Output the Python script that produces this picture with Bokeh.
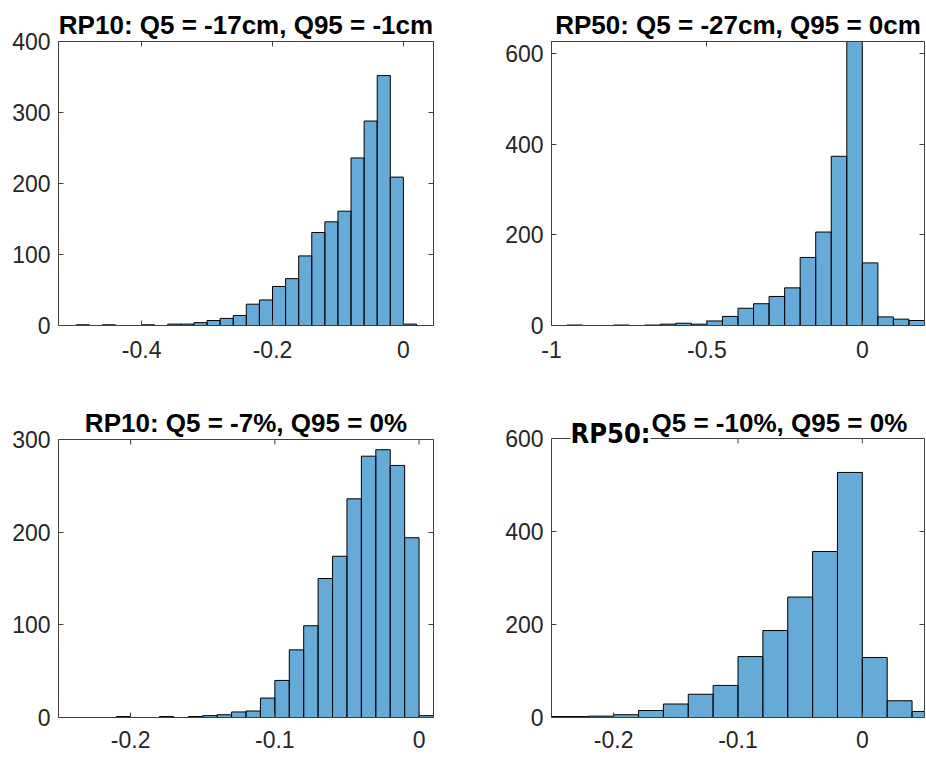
import glob
from bokeh.plotting import figure
from bokeh.models import (Range1d, FixedTicker, LinearAxis, CustomJSTickFormatter,
                          CustomLabelingPolicy, Label, Span, ColumnDataSource)
from bokeh.layouts import column, row
from bokeh.embed import file_html
from bokeh.resources import INLINE

# ---------------- data ----------------
# RP10, absolute change (m): bins of 0.02 starting at -0.50
rp10_abs_start = -0.50
rp10_abs_width = 0.02
rp10_abs_counts = [1, 0, 1, 0, 0, 1, 0, 2, 2, 4, 7, 10, 14, 30, 36, 55, 66, 98,
                   131, 146, 161, 236, 288, 352, 209, 2]

# RP50, absolute change (m): bins of 0.05 starting at -1.00
rp50_abs_start = -1.00
rp50_abs_width = 0.05
rp50_abs_counts = [0, 1, 0, 0, 1, 0, 1, 3, 5, 3, 10, 20, 38, 48, 64, 83, 150,
                   206, 373, 626, 138, 19, 14, 11]

# RP10, relative change: bins of 0.01 starting at -0.25
rp10_rel_start = -0.25
rp10_rel_width = 0.01
rp10_rel_counts = [0, 0, 0, 0, 1, 0, 0, 1, 0, 1, 2, 3, 6, 7, 21, 40, 73, 99,
                   150, 174, 236, 282, 289, 272, 194, 2]

# RP50, relative change: bins of 0.02 starting at -0.26
rp50_rel_start = -0.26
rp50_rel_width = 0.02
rp50_rel_counts = [2, 2, 3, 6, 15, 29, 50, 69, 131, 187, 259, 357, 527, 129, 36, 13]

titles = ["RP10: Q5 = -17cm, Q95 = -1cm",
          "RP50: Q5 = -27cm, Q95 = 0cm",
          "RP10: Q5 = -7%, Q95 = 0%",
          "Q5 = -10%, Q95 = 0%"]
title_prefix_rp50 = "RP50:"

x_ticks = [[-0.4, -0.2, 0], [-1, -0.5, 0], [-0.2, -0.1, 0], [-0.2, -0.1, 0]]
y_ticks = [[0, 100, 200, 300, 400], [0, 200, 400, 600], [0, 100, 200, 300], [0, 200, 400, 600]]
x_limits = [(-0.527, 0.046), (-1.0, 0.2), (-0.25, 0.01), (-0.25, 0.05)]
y_limits = [(0, 400), (0, 626), (0, 300), (0, 600)]

# ---------------- styling ----------------
FONT = "Liberation Sans"


def font_files(pattern):
    out = []
    for root in ("/usr/share/fonts", "/usr/local/share/fonts"):
        out += glob.glob(f"{root}/**/{pattern}", recursive=True)
    return out


if font_files("LiberationSansNarrow-Bold*"):
    NARROW, NARROW_PX = "Liberation Sans Narrow", 35
elif font_files("NotoSans-CondensedBold*"):
    NARROW, NARROW_PX = "Noto Sans Condensed", 34
else:
    NARROW, NARROW_PX = "DejaVu Sans Condensed", 27

BAR_FILL = "#0072BD"
AXIS_COLOR = "#404040"
TEXT_COLOR = "#262626"
TICK_SIZE = "23px"
TITLE_PX = 26
TICK_LEN = 5

fmt = CustomJSTickFormatter(code="return String(Math.round(tick*1000)/1000);")
no_labels = CustomLabelingPolicy(code="return new Set();")


def style_axis(ax, labeled, standoff):
    ax.axis_line_color = AXIS_COLOR
    ax.major_tick_line_color = AXIS_COLOR
    ax.major_tick_in = TICK_LEN
    ax.major_tick_out = 0
    ax.minor_tick_line_color = None
    ax.major_label_text_font = FONT
    ax.major_label_text_color = TEXT_COLOR
    if labeled:
        ax.major_label_text_font_size = TICK_SIZE
        ax.major_label_standoff = standoff
    else:
        ax.major_label_text_font_size = "0px"
        ax.major_label_policy = no_labels
        ax.major_label_standoff = 0


def make_panel(idx, start, width, counts, fig_w, fig_h, mb_left, mb_right, mb_top, mb_bottom,
               x_standoff, box_gap=None):
    """box_gap: if given, the frame reaches box_gap px above the box top, so that the
    title can be drawn inside the frame (and overlap the box, as in the reference)."""
    y0, y1 = y_limits[idx]
    fh = fig_h - mb_top - mb_bottom
    y_end = y1 if box_gap is None else y1 * fh / (fh - box_gap)
    extra = dict(title=None) if box_gap is not None else {}
    p = figure(width=fig_w, height=fig_h, output_backend="svg", toolbar_location=None,
               x_range=Range1d(*x_limits[idx]), y_range=Range1d(y0, y_end),
               min_border_left=mb_left, min_border_right=mb_right,
               min_border_top=mb_top, min_border_bottom=mb_bottom,
               x_axis_location=None, y_axis_location=None, **extra)
    p.outline_line_color = None
    p.grid.grid_line_color = None
    p.background_fill_color = "white"
    p.border_fill_color = "white"

    lefts = [start + i * width for i in range(len(counts))]
    rights = [l + width for l in lefts]
    src = ColumnDataSource(dict(left=lefts, right=rights, top=counts, bottom=[0] * len(counts)))
    p.quad(left="left", right="right", top="top", bottom="bottom", source=src,
           fill_color=BAR_FILL, fill_alpha=0.6, line_color="black", line_width=1)

    bx = LinearAxis(ticker=FixedTicker(ticks=x_ticks[idx]), formatter=fmt)
    style_axis(bx, True, x_standoff)
    p.add_layout(bx, "below")
    ly = LinearAxis(ticker=FixedTicker(ticks=y_ticks[idx]), formatter=fmt)
    style_axis(ly, True, 8)
    p.add_layout(ly, "left")
    ry = LinearAxis(ticker=FixedTicker(ticks=y_ticks[idx]), formatter=fmt)
    style_axis(ry, False, 0)
    p.add_layout(ry, "right")
    if box_gap is not None:
        ly.bounds = (y0, y1)
        ry.bounds = (y0, y1)
        p.add_layout(Span(location=y1, dimension="width", line_color=AXIS_COLOR, line_width=1))
        tick_units = TICK_LEN * (y_end - y0) / fh
        n = len(x_ticks[idx])
        p.segment(x0=x_ticks[idx], x1=x_ticks[idx], y0=[y1] * n, y1=[y1 - tick_units] * n,
                  line_color=AXIS_COLOR, line_width=1)
    else:
        tx = LinearAxis(ticker=FixedTicker(ticks=x_ticks[idx]), formatter=fmt)
        style_axis(tx, False, 0)
        p.add_layout(tx, "above")
        p.title.text = titles[idx]
        p.title.text_font = FONT
        p.title.text_font_style = "bold"
        p.title.text_font_size = f"{TITLE_PX}px"
        p.title.text_color = "black"
        p.title.align = "center"
        p.title.standoff = 4
    return p, fh


# geometry: left column 470 wide, right column 455 wide; rows 380 + 377 high
TOP_H, BOT_H = 380, 377
p1, _ = make_panel(0, rp10_abs_start, rp10_abs_width, rp10_abs_counts, 470, TOP_H, 58, 37, 41, 55, 15)
p2, _ = make_panel(1, rp50_abs_start, rp50_abs_width, rp50_abs_counts, 455, TOP_H, 81, 1, 41, 55, 15)
p3, fh3 = make_panel(2, rp10_rel_start, rp10_rel_width, rp10_rel_counts, 470, BOT_H, 58, 37,
                     20, 40, 13, box_gap=39)
p4, fh4 = make_panel(3, rp50_rel_start, rp50_rel_width, rp50_rel_counts, 455, BOT_H, 81, 1,
                     20, 40, 13, box_gap=38)

p3.add_layout(Label(x=(470 - 58 - 37) / 2, y=fh3 - 7.5, x_units="screen", y_units="screen",
                    text=titles[2], text_font=FONT, text_font_style="bold",
                    text_font_size=f"{TITLE_PX}px", text_color="black",
                    text_baseline="top", text_align="center"))
p4.add_layout(Label(x=100, y=fh4 - 7.5, x_units="screen", y_units="screen", text=titles[3],
                    text_font=FONT, text_font_style="bold", text_font_size=f"{TITLE_PX}px",
                    text_color="black", text_baseline="top", text_align="left"))
p4.add_layout(Label(x=19, y=fh4 - 17.5, x_units="screen", y_units="screen",
                    text=title_prefix_rp50, text_font=NARROW, text_font_style="bold",
                    text_font_size=f"{NARROW_PX}px", text_color="black",
                    text_baseline="top", text_align="left",
                    background_fill_color="white", background_fill_alpha=1.0))

layout = column(row(p1, p2), row(p3, p4))

open("out.html", "w").write(file_html(layout, INLINE))
